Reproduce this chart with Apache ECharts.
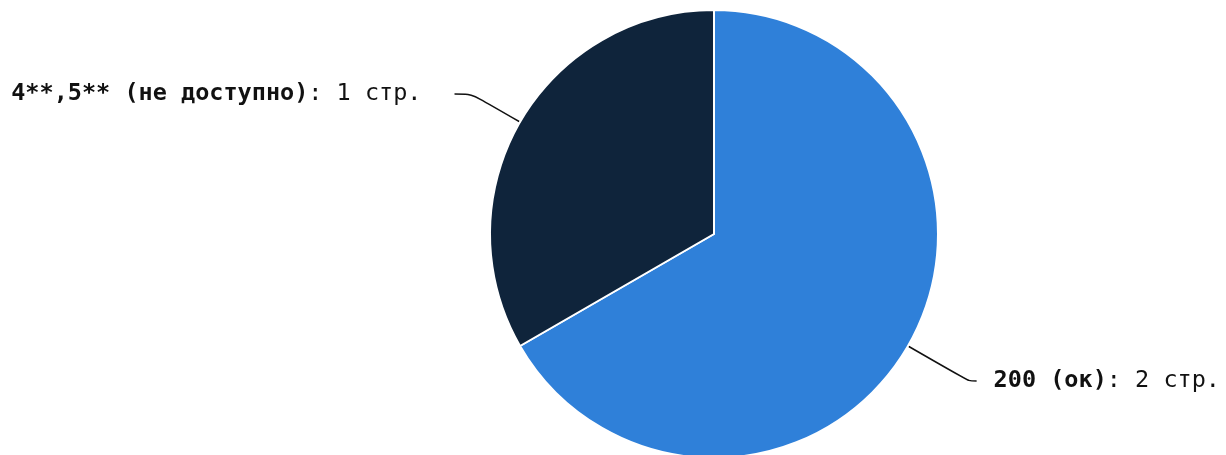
<!DOCTYPE html>
<html><head><meta charset="utf-8">
<script src="https://cdn.jsdelivr.net/npm/echarts@6/dist/echarts.min.js"></script>
<style>html,body{margin:0;padding:0;background:#fff}#c{width:1226px;height:455px}</style>
</head><body><div id="c"></div>
<script>
const categories = ['200 (ок)', '4**,5** (не доступно)'];
const values = [2, 1];
const colors = ['#2f80d9', '#0f243b'];
const lineLen1 = [70, 56];
const lineLen2 = [8, 17];
const labelGap = [17, 33];
const chart = echarts.init(document.getElementById('c'));
chart.setOption({
  animation: false,
  series: [{
    type: 'pie',
    center: [714, 234],
    radius: 224,
    startAngle: 90,
    clockwise: true,
    itemStyle: { borderColor: '#fff', borderWidth: 2 },
    label: {
      show: true,
      overflow: 'none',
      fontFamily: 'DejaVu Sans Mono',
      fontSize: 23.5,
      color: '#111',
      formatter: p => '{b|' + p.name + '}: ' + p.value + ' стр.',
      rich: { b: { fontFamily: 'DejaVu Sans Mono', fontSize: 23.5, fontWeight: 'bold', color: '#111' } }
    },
    labelLine: { show: true, smooth: true, lineStyle: { color: '#111', width: 1.5 } },
    data: categories.map((c, i) => ({
      name: c, value: values[i],
      itemStyle: { color: colors[i] },
      label: { distanceToLabelLine: labelGap[i] },
      labelLine: { length: lineLen1[i], length2: lineLen2[i] }
    }))
  }]
});
</script></body></html>
